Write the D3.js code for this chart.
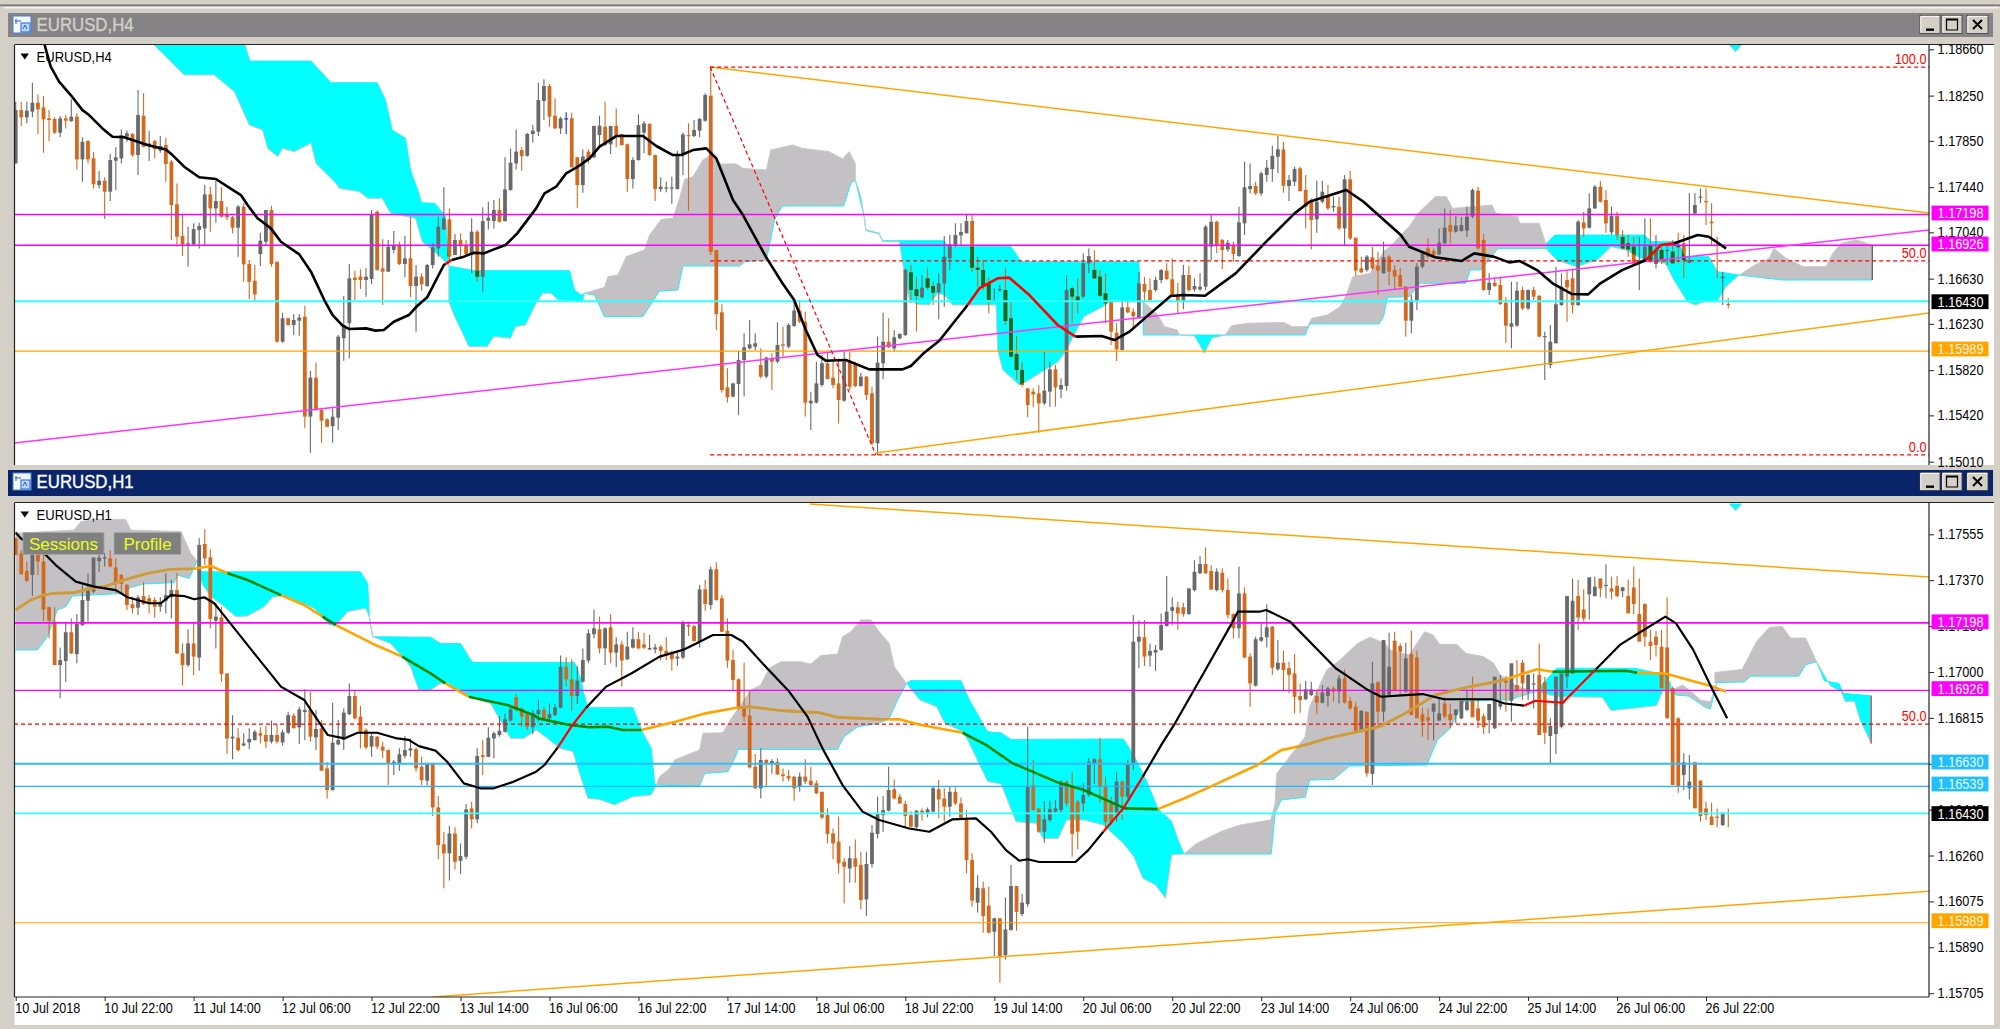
<!DOCTYPE html>
<html><head><meta charset="utf-8">
<script src="https://cdn.jsdelivr.net/npm/d3@7"></script>
<style>html,body{margin:0;padding:0;background:#d4d0c8;overflow:hidden}svg{display:block}text{font-family:"Liberation Sans",Arial,sans-serif}</style>
</head><body>
<script>
// All prices are in points: 118660 = 1.18660. Bars are counted from the left edge of each chart.
const h4High=[118196,118196,118196,118364,118261,118246,118122,118058,118069,118078,118217,118093,117881,117857,117754,117583,117527,117733,117792,117951,117940,117922,118300,118270,117940,117857,117892,117878,117680,117473,117193,117090,117120,117125,117459,117444,117497,117438,117267,117184,117282,117297,116795,116751,117037,117238,117276,116780,116329,116285,116314,116317,116391,115813,115889,115482,115394,115482,116131,116476,116760,116701,116713,116722,117238,117232,116978,116972,117052,116957,117010,117179,116751,116677,116760,116943,117179,117438,117252,117025,117031,116972,117164,117061,117261,117311,117326,117341,117704,117783,117951,117792,117922,117990,118364,118394,118353,118226,118064,118102,118099,117710,117774,117774,117984,118072,118196,117984,118137,117910,117827,117704,118084,118025,118005,117730,117527,117488,117532,117763,117922,118005,118034,118055,118270,118506,116884,116403,115836,115709,115993,116146,116264,116146,116013,115940,115969,116243,116205,116235,116441,116441,116338,115630,115895,115954,115984,115895,115925,115984,115984,115895,115798,115769,115674,116117,116329,116279,116175,116146,116721,116751,116648,116662,116721,116603,116677,117007,117016,117120,117120,117193,117193,116825,116795,116648,116544,116574,116721,116426,116122,115887,115659,115659,115689,115984,115895,115866,115748,116662,116559,116633,116854,116898,116884,116707,116677,116432,116235,116427,116427,116367,116692,116648,116633,116648,116713,116766,116810,116594,116751,116742,116633,116677,117105,117193,117143,116981,116972,116957,117267,117665,117650,117488,117577,117680,117807,117892,117842,117547,117621,117621,117547,117341,117497,117497,117459,117356,117356,117547,117583,116993,116825,116839,116913,116869,116957,116839,116751,116727,116565,116485,116766,116869,116987,116898,117075,117252,117238,117184,117179,117267,117429,117444,117025,116677,116648,116648,116465,116603,116603,116559,116535,116559,116485,116161,116220,116736,116677,116707,116721,117149,117223,117385,117459,117494,117415,117267,117223,117061,117016,117001,117001,117164,117164,117016,116913,116943,116972,117037,117016,117385,117385,117429,117429,117297,117001,116692,116456];
const h4Low=[117650,117981,118005,118058,117910,117745,117848,117910,117881,117960,118019,117597,117488,117650,117429,117429,117158,117317,117415,117650,117842,117709,117547,117792,117671,117695,117745,117488,116972,116913,116833,116736,116928,116898,116928,117046,117128,117170,117149,117031,116825,116603,116450,116432,116742,116928,116736,116063,116063,116214,116131,116125,115305,115090,115462,115178,115314,115178,115291,115904,115925,116441,116538,116471,116583,116701,116397,116692,116854,116751,116642,116465,116161,116524,116559,116721,116825,117060,116780,116839,116825,116839,116677,116603,116515,117066,117075,117128,117134,117409,117597,117586,117709,117836,117892,118034,117975,117954,117910,117910,117615,117258,117391,117650,117695,117798,117804,117733,117792,117807,117400,117429,117674,117739,117718,117317,117400,117394,117291,117420,117547,117232,117881,117881,118019,116839,116175,115621,115535,115580,115423,115586,116004,115999,115748,115748,115644,115881,115940,116013,116205,116235,115409,115291,115527,115674,115739,115659,115349,115541,115644,115668,115674,115556,115158,115069,115739,116013,115984,116093,116122,116412,116161,116456,116530,116397,116270,116382,116707,116907,116928,117031,116692,116559,116530,116323,116435,116515,116220,115934,115739,115674,115403,115491,115267,115512,115497,115497,115571,115639,116235,116323,116456,116677,116624,116471,116235,116043,115901,115998,116323,116190,116279,116427,116435,116515,116589,116618,116471,116323,116359,116515,116515,116524,116529,116795,116854,116715,116869,116780,116825,117016,117385,117370,117364,117488,117488,117562,117391,117317,117450,117400,117075,116889,117037,117297,117238,117223,117060,116928,116972,116653,116677,116692,116707,116485,116677,116574,116535,116553,116117,116146,116353,116721,116810,116825,116839,116937,116943,117037,117046,116999,117164,116884,116524,116485,116559,116397,116063,116013,116205,116353,116353,116441,116111,115733,115836,116058,116388,116249,116323,116388,116996,117075,117246,117303,117037,117016,116972,116889,116825,116751,116530,116780,116771,116721,116760,116751,116766,116766,116633,116766,117202,117297,117105,116919,116633,116397,116368];
const h4Open=[117650,118122,118058,118108,118187,118146,118049,118043,117922,118049,118025,118064,117686,117848,117695,117459,117497,117400,117674,117695,117887,117910,117724,118072,117804,117848,117763,117813,117665,117288,117007,116934,116934,117060,117075,117376,117252,117317,117193,117173,117081,117267,116760,116612,116848,116957,117238,116780,116072,116279,116220,116258,116294,115409,115754,115468,115385,115326,115400,116102,116235,116639,116648,116618,116627,117223,116721,116692,116884,116919,116760,116810,116565,116648,116565,116751,116898,117066,117155,116839,116972,116928,116839,117046,116647,117143,117140,117238,117140,117415,117650,117768,117718,117910,117931,118202,118335,118072,117960,118049,118049,117704,117459,117754,117704,117901,117975,117819,117981,117910,117819,117512,117680,117922,117999,117724,117423,117432,117429,117423,117724,117901,117892,117940,118028,118249,116884,116332,115668,115586,115698,115910,116013,116028,115866,115763,115925,115895,116049,116028,116211,116347,116249,115527,115533,115689,115881,115754,115703,115550,115895,115875,115680,115763,115615,115173,115881,116072,116013,116102,116131,116686,116535,116465,116633,116565,116509,116589,116810,116922,117013,117031,117140,116727,116707,116589,116441,116529,116529,116279,115963,115822,115659,115630,115615,115527,115630,115827,115650,115680,116544,116471,116471,116766,116707,116648,116500,116427,116152,115998,116376,116338,116279,116583,116529,116529,116618,116701,116624,116491,116427,116662,116535,116535,116559,116913,117134,116972,116889,116928,116830,117120,117423,117450,117385,117547,117600,117709,117774,117450,117488,117606,117415,117320,117155,117311,117370,117261,117267,117075,117509,116993,116721,116707,116819,116745,116677,116825,116707,116662,116559,116258,116441,116736,116898,116875,116845,116943,117105,117046,117052,117055,117179,117409,116972,116530,116594,116574,116417,116205,116214,116530,116367,116530,116477,116122,115866,116058,116397,116618,116633,116397,117128,117081,117252,117444,117326,117040,117184,116999,116943,116913,116766,116795,116919,116760,116884,116884,116869,116919,116943,116771,117208,117356,117317,117134,116934,116633,116406];
const h4Close=[118122,118058,118117,118187,118128,118040,118034,117922,118049,118028,118064,117686,117842,117686,117465,117497,117400,117680,117704,117901,117916,117724,118078,117798,117827,117774,117804,117645,117282,117001,116934,116943,117069,117096,117376,117252,117317,117179,117173,117081,117267,116757,116603,116491,116966,117238,116760,116072,116279,116220,116264,116285,115409,115754,115468,115373,115320,115409,116117,116220,116633,116618,116618,116648,117202,116707,116692,116913,116919,116760,116810,116565,116648,116580,116751,116907,117090,117164,116825,116972,116919,116848,117046,116647,117140,117170,117238,117134,117420,117656,117754,117715,117910,117940,118211,118335,118064,117960,118049,118049,117615,117459,117710,117680,117981,117984,117813,117981,117887,117813,117512,117680,117990,118005,117724,117423,117444,117438,117438,117724,117907,117892,117945,118043,118255,116869,116317,115644,115580,115703,115910,116022,116049,116058,115763,115931,115895,116043,116037,116220,116347,116249,115533,115550,115703,115881,115742,115689,115556,115895,115674,115680,115763,115600,115173,115887,116072,116022,116111,116140,116707,116530,116476,116550,116550,116506,116589,116825,116934,117016,117043,117140,116727,116707,116565,116441,116441,116538,116255,115940,115822,115689,115512,115606,115527,115639,115827,115668,115689,116529,116471,116427,116766,116830,116633,116479,116412,116161,116004,116376,116332,116299,116589,116515,116441,116618,116707,116627,116477,116427,116662,116529,116565,116559,117090,117134,116928,116884,116948,116848,117128,117438,117450,117385,117562,117612,117718,117774,117453,117503,117600,117406,117267,117149,117311,117400,117252,117273,117075,117509,116987,116701,116686,116825,116721,116701,116819,116692,116648,116559,116258,116441,116736,116854,116825,116839,116948,117081,117046,117099,117105,117179,117415,116898,116530,116594,116565,116406,116214,116235,116524,116367,116530,116471,116117,116122,116072,116403,116559,116553,116397,117134,117075,117252,117444,117311,117120,117184,117016,116898,116889,116766,116795,116913,116795,116884,116795,116884,116766,116913,116795,116795,117282,117356,117311,117120,116928,116648,116397,116427];

const h1High=[117539,117492,117445,117539,117545,117478,117263,117261,117099,117196,117216,117234,117351,117398,117461,117485,117481,117492,117458,117395,117355,117304,117310,117364,117310,117301,117301,117398,117371,117400,117115,117172,117199,117539,117575,117494,117277,117263,116994,116826,116773,116753,116773,116766,116777,116782,116804,116790,116766,116840,116833,116860,116930,116921,116847,116806,116638,116876,116806,116853,116954,116927,116863,116773,116750,116742,116719,116688,116645,116692,116742,116732,116696,116658,116634,116634,116500,116356,116379,116374,116309,116468,116477,116692,116726,116777,116759,116822,116833,116860,116911,116857,116840,116847,116887,116860,116873,116871,117066,117059,117051,117024,117095,117172,117252,117223,117180,117234,117140,117126,117162,117180,117162,117158,117149,117113,117109,117140,117086,117078,117207,117203,117189,117351,117371,117425,117442,117310,117216,117089,116974,117037,116927,116669,116692,116648,116648,116652,116611,116605,116580,116595,116648,116618,116562,116517,116450,116369,116417,116249,116298,116325,116275,116275,116383,116497,116500,116618,116567,116508,116481,116439,116443,116450,116454,116540,116564,116531,116540,116535,116494,116443,116269,116181,116154,116134,116009,116007,116091,116222,116137,116105,116779,116645,116453,116480,116481,116484,116564,116562,116598,116484,116551,116652,116652,116735,116578,116497,116598,116562,116645,117230,117207,117210,117115,117109,117236,117387,117300,117283,117279,117337,117451,117468,117502,117431,117418,117418,117377,117236,117425,117341,117075,117142,117196,117273,117185,117129,117086,117041,117072,116954,116965,116961,116927,116947,116941,116943,116988,117011,116900,116880,116847,116840,117041,116964,116921,117158,117162,117115,117118,117166,117086,116857,116853,116857,116894,116898,116873,116849,116860,116925,116981,116894,116833,116813,116873,116988,116984,116968,117048,117048,116994,116994,117115,116981,116813,116817,116994,117115,117377,117371,117333,117317,117384,117377,117434,117384,117387,117344,117373,117425,117377,117277,117169,117166,117169,117301,116941,116817,116672,116665,116638,116564,116477,116473,116450,116414,116450];
const h1Low=[117472,117391,117364,117306,117391,117205,117136,117028,116894,116961,117072,117035,117185,117203,117317,117404,117425,117422,117317,117317,117250,117236,117230,117270,117236,117219,117243,117236,117216,117072,116945,117021,116988,117005,117431,117176,117095,116961,116669,116648,116679,116701,116688,116723,116712,116692,116712,116712,116703,116750,116773,116710,116726,116719,116685,116601,116490,116521,116705,116685,116826,116809,116692,116688,116658,116688,116652,116544,116585,116602,116652,116658,116598,116544,116543,116419,116245,116128,116159,116204,116185,116245,116369,116390,116585,116656,116652,116739,116755,116800,116840,116779,116766,116750,116800,116804,116809,116822,116853,116941,116844,116871,116957,117035,117136,117075,117028,117035,117019,116941,117048,117095,117091,117093,117089,117075,117046,117048,117005,117024,117052,117145,117122,117099,117247,117252,117287,117162,117017,116927,116847,116800,116611,116527,116490,116537,116591,116585,116558,116560,116481,116517,116548,116540,116508,116406,116309,116245,116188,116067,116150,116150,116043,116016,116212,116329,116356,116437,116486,116468,116376,116374,116369,116400,116414,116433,116410,116396,116417,116464,116403,116188,116054,116030,115949,115946,115855,115747,115841,115957,115957,116016,116054,116441,116352,116312,116396,116427,116430,116457,116255,116285,116437,116497,116548,116473,116360,116383,116396,116403,116490,116605,117015,117024,117021,117005,117086,117183,117189,117169,117223,117230,117324,117395,117395,117330,117324,117320,117216,117136,117136,117055,116860,116941,117122,117099,116988,117005,116927,116914,116833,116836,116887,116903,116830,116873,116860,116880,116873,116873,116847,116755,116755,116578,116544,116779,116800,116903,117015,116900,116917,116927,116822,116739,116726,116726,116804,116813,116773,116793,116809,116843,116840,116773,116750,116753,116770,116849,116840,116800,116943,116887,116887,116853,116951,116710,116632,116669,116773,116934,116992,117169,117203,117212,117304,117301,117297,117293,117301,117301,117257,117234,117216,117102,117048,117062,117055,116914,116719,116513,116524,116486,116537,116396,116403,116410,116374,116379,116374];
const h1Open=[117539,117478,117407,117391,117485,117445,117261,117203,117028,117044,117160,117072,117189,117287,117324,117447,117457,117458,117421,117391,117351,117273,117259,117306,117297,117290,117263,117287,117301,117330,117075,117028,117115,117058,117516,117462,117207,117220,116994,116732,116735,116704,116716,116726,116753,116746,116719,116746,116716,116755,116824,116777,116839,116847,116736,116773,116611,116524,116708,116726,116830,116903,116820,116766,116699,116739,116699,116685,116629,116632,116662,116683,116689,116618,116562,116632,116454,116305,116269,116349,116239,116255,116450,116406,116665,116658,116732,116746,116759,116804,116898,116853,116833,116777,116830,116847,116813,116826,116856,117021,116970,116903,116961,117046,117152,117172,117095,117180,117078,117111,117051,117098,117132,117111,117091,117091,117102,117085,117075,117054,117058,117189,117185,117121,117333,117270,117414,117297,117166,117048,116970,116853,116824,116618,116531,116645,116629,116638,116587,116580,116578,116537,116578,116562,116551,116517,116423,116349,116316,116235,116208,116249,116222,116083,116226,116347,116423,116441,116527,116497,116468,116423,116374,116441,116433,116437,116527,116490,116457,116517,116470,116410,116242,116070,116128,116058,115953,116007,115859,115960,116137,116024,116064,116544,116450,116356,116403,116437,116443,116558,116540,116477,116470,116504,116629,116648,116540,116470,116430,116558,116497,116625,117122,117140,117066,117078,117089,117185,117246,117261,117261,117234,117330,117398,117435,117407,117330,117400,117330,117234,117176,117317,117062,116945,117126,117140,117183,117011,117037,117015,116994,116903,116890,116907,116903,116876,116903,116934,116921,116974,116883,116860,116759,116840,116589,116958,116840,116907,117126,117105,116921,117072,117059,116830,116817,116840,116804,116873,116830,116826,116813,116847,116884,116853,116822,116806,116773,116860,116974,116884,116947,117037,116921,116954,116988,116958,116742,116750,116779,116981,116994,117306,117252,117313,117306,117377,117347,117337,117347,117326,117306,117341,117234,117274,117122,117142,117102,117099,116934,116813,116585,116531,116636,116562,116450,116417,116417,116383,116410];
const h1Close=[117472,117395,117367,117519,117445,117252,117207,117028,117048,117160,117075,117193,117290,117330,117461,117461,117462,117425,117355,117355,117270,117257,117301,117274,117273,117263,117283,117310,117330,117075,117028,117115,117062,117512,117458,117214,117223,116992,116732,116739,116685,116712,116730,116759,116743,116719,116746,116719,116757,116826,116773,116849,116847,116739,116770,116602,116524,116715,116726,116836,116903,116813,116759,116696,116742,116699,116683,116632,116638,116668,116685,116692,116611,116564,116632,116454,116302,116269,116349,116235,116258,116446,116406,116661,116658,116735,116753,116763,116809,116849,116847,116820,116779,116833,116847,116813,116830,116857,117021,116970,116903,116965,117048,117156,117176,117095,117176,117078,117111,117046,117102,117132,117095,117098,117097,117099,117085,117066,117052,117062,117199,117183,117125,117333,117274,117414,117290,117162,117046,116968,116853,116820,116615,116531,116645,116629,116641,116587,116580,116571,116531,116578,116558,116544,116511,116413,116347,116309,116228,116215,116249,116215,116081,116226,116352,116427,116443,116524,116490,116470,116419,116376,116441,116433,116446,116531,116486,116457,116517,116470,116410,116242,116078,116130,116016,115949,116007,115855,115962,116137,116033,116070,116540,116443,116356,116406,116447,116450,116551,116470,116347,116356,116504,116638,116648,116537,116396,116396,116558,116497,116632,117122,117142,117062,117085,117089,117189,117243,117261,117236,117234,117337,117404,117435,117398,117333,117404,117330,117230,117176,117317,117058,116954,117132,117140,117180,117017,117037,117008,116988,116900,116887,116930,116930,116876,116917,116934,116921,116974,116876,116853,116759,116843,116591,116954,116840,117129,117021,116927,117082,117055,116826,116813,116800,116804,116873,116833,116820,116806,116849,116884,116880,116817,116804,116777,116871,116981,116876,116957,117035,116921,116954,116988,116954,116746,116755,116782,116981,116994,117306,117287,117220,117216,117382,117344,117337,117351,117324,117306,117341,117236,117274,117122,117142,117105,117109,116934,116813,116544,116537,116636,116558,116450,116419,116423,116383,116414,116433];

// Moving averages, read at breakpoints [bar, price]
const h4MaBars=[5.2,6.3,7.8,9.9,12,13.2,15.6,17.4,19.5,21,23.7,27,28.2,30.3,33,36,38.1,40.5,41.7,43.5,45.9,47.7,51,53.1,55.5,57,58.8,60,63,64.7,66.2,68,70.7,72.2,74,77,77.3,78.4,80.6,82.4,84.2,86,88.1,90.2,93.6,95.1,97.2,99,101.1,103.2,105,108,112.8,115.2,118.2,119.7,121.8,124.2,126,129,130.8,134.9,137.9,140,142.1,144.2,145.7,149.3,153.5,159.5,161,163.4,166.1,171.2,173.3,176.6,178.7,182.3,187.4,190.6,195.3,197.6,200.3,203.4,207.7,210,213.9,219.4,224.9,230,232.7,239.3,242.4,249.1,250.6,255.3,260,262.3,265.8,268.6,270.5,273.6,276.4,279.9,282.8,285,288.9,293.2,295.9,298.2,302.5,304.5,307.6];
const h4MaVals=[118698,118506,118373,118255,118122,118078,117960,117886,117881,117857,117813,117774,117724,117621,117527,117512,117444,117370,117282,117164,117075,116957,116845,116692,116441,116308,116214,116184,116190,116170,116175,116249,116308,116388,116465,116751,116760,116795,116825,116860,116854,116889,116928,117031,117252,117385,117444,117562,117621,117695,117798,117892,117892,117804,117724,117724,117768,117783,117695,117326,117193,116825,116589,116441,116176,115954,115904,115910,115827,115827,115857,115975,116081,116397,116544,116633,116639,116485,116220,116117,116122,116087,116161,116294,116476,116485,116479,116677,116957,117208,117311,117415,117311,117016,116913,116819,116786,116854,116825,116774,116786,116706,116589,116494,116491,116589,116706,116795,116928,116942,117016,117001,116898];
const h4MaRedSpans=[[77.3,78.4],[171.2,190.6],[293.2,298.2]];
const h1MaBars=[0,0.9,5.4,7.2,10.8,14.1,18,20.1,24,26.1,27.9,30.3,32.1,33.9,35.7,38.1,42.9,47.7,51.9,53.7,56.1,59.1,61.5,65,68.6,70.7,72.5,75.5,77.6,80.6,83.6,86,89.6,93.6,95.1,97.5,99.9,102.6,106.2,110.7,115.8,120,122.4,125.4,128.7,130.8,134.3,139.1,142.4,145.1,148.7,152.3,155.3,160.7,164.3,168.5,172.7,175.4,178.1,180.5,182,184.1,187.5,190.6,192.9,195.6,199.2,202.7,206.2,208.5,213.6,218.7,219.8,223.7,224.9,229.2,237.4,240.5,243.2,245.6,249.9,253,256.9,265.5,267.8,271.3,273.3,278.3,278.7,284.2,288.5,292.8,296.7,298.6,301.7,305.2,307.8];
const h1MaVals=[117562,117539,117472,117431,117364,117344,117330,117301,117277,117277,117310,117306,117293,117301,117277,117210,117075,116941,116887,116826,116746,116732,116755,116755,116732,116726,116701,116683,116638,116551,116531,116531,116558,116598,116625,116696,116779,116856,116941,116994,117062,117089,117115,117149,117149,117122,117035,116921,116820,116692,116544,116437,116403,116369,116356,116406,116410,116356,116282,116239,116245,116234,116234,116234,116282,116356,116450,116578,116712,116793,116994,117196,117243,117243,117250,117203,117015,116968,116927,116900,116907,116911,116890,116890,116873,116864,116884,116876,116887,117011,117109,117169,117223,117196,117089,116927,116813];
const h1MaRedSpans=[[97.5,102.6],[195.6,202.7],[271.3,284.2]];
const h1SlowBars=[0,2.7,5.1,6.9,10.5,13.5,15.9,19.5,23.7,27.9,32.1,35.1,38.1,41.7,47.7,51.9,55.2,57.6,64.1,69.5,74.6,77.3,81.5,88.4,93.2,94,99.6,103.2,106.5,109.2,112.5,118.8,123.6,129.6,132,137.9,144.5,147.8,155.3,158.9,162.8,170.3,174.5,179.3,187.5,192.1,199.5,205.4,210.1,214.8,223.3,227.6,231.9,235.8,241.3,245.2,249.9,255.3,261.6,267,273.6,276.4,289.6,291.6,296.7,300.6,305.2,307.6];
const h1SlowVals=[117250,117290,117310,117317,117320,117337,117344,117371,117398,117414,117416,117427,117398,117371,117310,117270,117223,117189,117115,117062,116994,116954,116900,116867,116826,116813,116786,116777,116779,116766,116766,116800,116831,116856,116860,116844,116836,116817,116810,116809,116786,116755,116706,116632,116554,116524,116450,116447,116490,116537,116625,116685,116706,116732,116759,116779,116833,116907,116941,116964,117011,117001,117005,116997,116994,116970,116941,116920];
const h1SlowGreenSpans=[[38.1,47.7],[55.2,57.6],[69.5,77.3],[81.5,112.5],[170.3,205.4],[276.4,291.6]];

// Ichimoku cloud pieces: edges as [bar, price]
const h4CyanA1=[[24.9,118698],[41.2,118698],[42.1,118556],[53.1,118556],[56.7,118364],[65,118364],[66.5,118211],[67.7,117945],[70.1,117872],[71,117592],[72.5,117385],[73,117302],[75.4,117297],[77.3,117179],[77.9,116742]];
const h4CyanB1=[[24.9,118698],[27.6,118565],[30.3,118432],[35.7,118432],[39.3,118285],[42,117990],[44.4,117945],[45.3,117783],[47.1,117709],[48,117783],[50.1,117754],[53.1,117828],[54,117650],[57.6,117473],[58.2,117429],[61.8,117400],[63.3,117341],[65.9,117341],[67.4,117208],[71.9,117164],[73.1,116957],[74.9,116884],[76.4,116825],[77.9,116742]];
const h4CyanA2=[[77.9,116742],[80.3,116721],[82.4,116701],[99.6,116701],[100.5,116530],[101.7,116485],[102.3,116500]];
const h4CyanB2=[[77.9,116742],[77.9,116426],[78.8,116308],[81.5,116028],[84.8,116028],[86,116117],[89,116102],[89.9,116205],[91.7,116220],[93.6,116412],[94.8,116500],[96.3,116500],[97.5,116441],[102,116426],[102.3,116500]];
const h4GrayB1=[[102.3,116500],[105.9,116553],[106.5,116648],[108.3,116662],[109.8,116825],[113.1,116884],[114,117016],[116.1,117155],[118.2,117164],[119.4,117341],[120.3,117509],[121.8,117533],[123.6,117680],[125.1,117724],[126.9,117645],[129.6,117645],[130.8,117606],[135,117592],[135.8,117769],[139.7,117813],[141.5,117783],[146.3,117754],[148.7,117689],[149.9,117754],[151,117650],[151,117503]];
const h4GrayA1=[[102.3,116500],[104.1,116485],[105.9,116294],[112.8,116294],[115.8,116521],[119.1,116530],[120,116742],[130.2,116742],[131.1,116780],[135,116795],[136.5,117155],[137.9,117273],[148.9,117273],[150.2,117473],[151,117503]];
const h4CyanA3=[[151,117503],[152.6,117179],[152.9,117061],[155.3,117031],[155.9,116966],[166.8,116966],[167.9,116913],[179,116913],[180.8,116780],[202,116780],[202.3,116441],[202.8,116426]];
const h4CyanB3=[[151,117503],[152,117356],[152.6,117179],[152.9,117055],[155.3,117025],[155.9,116957],[158.9,116957],[159.5,116765],[160.7,116441],[162.2,116403],[164.3,116397],[165.8,116500],[167,116485],[168.5,116397],[176.3,116397],[176.6,115999],[177.5,115822],[180.5,115689],[181.7,115718],[187.5,115895],[189,115999],[190.2,116117],[192.1,116294],[195.6,116382],[197.2,116441],[202.8,116426]];
const h4GrayB2=[[202.8,116426],[205.4,116308],[206.6,116205],[208.9,116175],[209.3,116131]];
const h4GrayA2=[[202.8,116426],[202.8,116131],[209.3,116131]];
const h4CyanA4=[[209.3,116131],[217.5,116131]];
const h4CyanB4=[[209.3,116131],[212,116122],[213.8,115969],[215.1,116102],[217.5,116131]];
const h4GrayB3=[[217.5,116131],[218.7,116214],[221.8,116235],[228,116243],[229.6,116205],[232.3,116205],[233.1,116279],[235.9,116308],[238.2,116382],[239.3,116485],[240.5,116648],[243.6,116677],[246,116869],[247.5,116928],[249.1,117016],[250.6,117090],[252.2,117208],[255.3,117356],[257.3,117356],[258.4,117252],[265.5,117282],[266.2,117208],[270.1,117179],[270.5,117120],[274,117120],[275.2,116937]];
const h4GrayA3=[[217.5,116131],[231.9,116131],[232.7,116229],[245.2,116229],[246,116294],[246.7,116465],[250.6,116471],[252.6,116589],[260.8,116589],[261.6,116707],[263.5,116707],[266.6,116898],[275.2,116898],[275.2,116937]];
const h4CyanA5=[[275.2,116937],[276.8,117016],[292.8,117016],[294.3,116957],[299,116957],[300.2,116825],[304.5,116825],[306,116692],[308,116677],[310,116662]];
const h4CyanB5=[[275.2,116937],[275.2,116898],[277.1,116795],[280.6,116736],[284.5,116795],[286.9,116913],[289.6,116884],[292.8,116795],[296.7,116765],[298.2,116618],[300.6,116426],[302.1,116397],[303.7,116426],[306,116426],[307.6,116559],[309.6,116648],[310,116662]];
const h4GrayB4=[[310,116662],[312.8,116751],[315.4,116810],[316.2,116898],[318.4,116810],[321.5,116736],[325.6,116736],[326.8,116854],[328.3,116943],[331,116972],[333.9,116928]];
const h4GrayA4=[[310,116662],[317.7,116618],[333.9,116618]];
const h4CyanA6=[[308.2,118698],[310.4,118698]];
const h4CyanB6=[[308.2,118698],[309.3,118636],[310.4,118698]];
const h4CloudEdge=[[333.9,116928],[333.9,116618]];

const h1GrayB1=[[0,117559],[10.5,117572],[11.7,117606],[14.1,117615],[19.8,117615],[20.7,117572],[29.7,117566],[31.5,117478],[32.6,117447]];
const h1GrayA1=[[0,117089],[3.9,117089],[5.7,117142],[7.5,117250],[9,117263],[10.2,117306],[19.5,117317],[20.7,117341],[23.1,117355],[28.5,117360],[29.1,117391],[31.2,117377],[32.6,117447]];
const h1CyanA1=[[32.6,117447],[33.3,117404],[62,117404],[63.3,117357],[63.6,117223],[64.2,117142],[74.6,117140],[76.4,117115],[80,117115],[82.1,117039],[100.5,117039],[101.7,116968],[102,116927],[102.9,116856],[111,116856],[112.8,116753],[114.3,116692],[114.9,116551],[115.2,116544]];
const h1CyanB1=[[32.6,117447],[33.6,117351],[35.1,117304],[37.5,117263],[39.6,117223],[41.7,117226],[44.7,117263],[46.2,117301],[47.7,117306],[49.5,117297],[53.7,117256],[56.4,117189],[57.6,117189],[59.7,117243],[62.9,117257],[63.6,117223],[64.2,117142],[67.4,117115],[69.5,117062],[71,117021],[72.5,116927],[74.6,116927],[76.4,116954],[77.6,116954],[80,116921],[81.5,116900],[85.4,116873],[87.8,116779],[89,116732],[91.4,116732],[93.6,116766],[96,116726],[97.8,116692],[100.2,116679],[101.4,116591],[102.9,116490],[105,116486],[107.7,116464],[111,116497],[114.3,116504],[115.2,116544]];
const h1GrayB2=[[115.2,116544],[115.8,116578],[117.6,116611],[118.5,116645],[121.8,116675],[123,116685],[123.6,116753],[127.2,116755],[128.7,116813],[130.2,116860],[132.2,116927],[134,116947],[135.5,117015],[137.6,117041],[141.2,117041],[143,117032],[144.8,117066],[147.8,117072],[148.7,117142],[150.2,117162],[152,117210],[153.8,117210],[155.3,117162],[157.1,117115],[158,117021],[160.2,116954]];
const h1GrayA2=[[115.2,116544],[123,116540],[123.9,116591],[128.1,116598],[129.6,116665],[129.9,116688],[147.8,116688],[149,116739],[151.4,116779],[155.3,116793],[157.1,116813],[158.6,116887],[160.2,116954]];
const h1CyanA2=[[160.2,116954],[161,116965],[170,116965],[171.5,116887],[174.8,116759],[177.2,116755],[179,116728],[199.2,116730],[200.3,116692],[201.5,116645],[203.4,116558],[205.4,116450],[207.9,116396],[208.9,116329],[210.1,116266]];
const h1CyanB2=[[160.2,116954],[162.6,116887],[165.6,116860],[167.1,116793],[170.3,116759],[171.2,116726],[174.8,116558],[177.2,116548],[179.9,116396],[183.5,116390],[184.7,116329],[187.5,116329],[189,116403],[192.1,116403],[195.6,116383],[199.2,116309],[201.1,116255],[202.7,116168],[205,116141],[206.8,116087],[207.9,116262],[210.1,116266]];
const h1GrayB3=[[210.1,116266],[212.4,116309],[217.1,116360],[220.2,116383],[225.7,116403],[226.5,116470],[226.8,116591],[229.6,116672],[231.9,116739],[232.7,116860],[235.8,117008],[238.2,117048],[241.3,117115],[243.6,117140],[246.3,117115],[247.1,117089],[250.6,117068],[253.4,117162],[254.9,117149],[256.1,117111],[259.2,117111],[260.8,117075],[263.9,117062],[265.8,117035],[267,116988],[270.1,116941],[273.3,116921]];
const h1GrayA3=[[210.1,116266],[225.8,116266],[226.5,116430],[227.6,116484],[231.9,116495],[232.7,116564],[237,116567],[239.9,116621],[253.8,116625],[255.7,116726],[258,116773],[260.4,116880],[265.5,116887],[268.6,116887],[273.3,116921]];
const h1CyanA3=[[273.3,116921],[277.2,117015],[291.2,117015],[296.7,116988],[297.6,116954],[297.8,116927]];
const h1CyanB3=[[273.3,116921],[277.2,116900],[285.3,116898],[286.9,116844],[295.1,116864],[296.3,116927],[297.8,116927]];
const h1GrayB4=[[297.8,116927],[299.8,116947],[301.3,116921],[303,116887],[304.8,116880],[306,116961]];
const h1GrayA4=[[297.8,116927],[298.6,116907],[300.9,116903],[303.7,116860],[304.8,116851],[306,116961]];
const h1GrayB5=[[305.6,116957],[305.6,116998],[310.5,117010],[313.1,117123],[315.4,117180],[317.7,117183],[319.2,117137],[321.9,117137],[323.9,117041]];
const h1GrayA5=[[305.6,116957],[310.9,116960],[312,116983],[320.7,116983],[321.9,117029],[323.9,117041]];
const h1CyanA4=[[323.9,117041],[325.3,116964],[327.9,116954],[328.7,116914],[333.7,116904],[333.7,116712]];
const h1CyanB4=[[323.9,117041],[326.4,116943],[328.3,116921],[329,116881],[330.7,116881],[331.7,116806],[333.7,116712]];
const h1CyanA5=[[308.2,117677],[310.4,117677]];
const h1CyanB5=[[308.2,117677],[309.3,117649],[310.4,117677]];
const h1CloudEdge=[[333.7,116904],[333.7,116712]];

// Axis labels and levels
const h4Ticks=[118660,118250,117850,117440,117040,116630,116230,115820,115420,115010];
const h1Ticks=[117555,117370,117185,117000,116815,116630,116445,116260,116075,115890,115705];
const h1TimeLabels=["10 Jul 2018","10 Jul 22:00","11 Jul 14:00","12 Jul 06:00","12 Jul 22:00","13 Jul 14:00","16 Jul 06:00","16 Jul 22:00","17 Jul 14:00","18 Jul 06:00","18 Jul 22:00","19 Jul 14:00","20 Jul 06:00","20 Jul 22:00","23 Jul 14:00","24 Jul 06:00","24 Jul 22:00","25 Jul 14:00","26 Jul 06:00","26 Jul 22:00"];
const h4Levels=[[117198,"#ff00ff",1.6],[116926,"#ff00ff",1.6],[116430,"#33ffff",1.8],[115989,"#ffa500",1.4]];
const h1Levels=[[117198,"#ff00ff",1.6],[116926,"#ff00ff",1.4],[116630,"#33bbff",1.8],[116539,"#22b4ff",1.2],[116430,"#33ffff",1.6],[115989,"#ffa500",1.2]];
const h4Tags=[[117198,"#ff00ff","#ffffff",213],[116926,"#ff00ff","#ffffff",244],[116430,"#000000","#ffffff",301.7],[115989,"#ffa500","#fff6dc",349]];
const h1Tags=[[117198,"#ff00ff","#ffffff",621.8],[116926,"#ff00ff","#ffffff",688.6],[116630,"#22bfff","#e8fbff",762],[116539,"#22bfff","#e8fbff",784],[116430,"#000000","#ffffff",813.6],[115989,"#ffa500","#fff6dc",920.7]];
const h4Trends=[[[124.9,118503],[344.1,117211],"#ffa500"],[[154.7,115087],[344.1,116326],"#ffa500"],[[-0.3,115176],[344.1,117061],"#ff33ff"]];
const h1Trends=[[[142.8,117677],[344.1,117383],"#ffa500"],[[75,115690],[344.1,116116],"#ffa500"]];
const h4Fib=[[118503,"100.0",59],[116787,"50.0",253],[115070,"0.0",447]];
const h1Fib=[[116790,"50.0",716]];
const h4FibDiag=[[124.9,118503],[154.7,115070]];

const W=2000,H=1029,plotL=14.5,axisX=1929,panelR=1994;
const x=d3.scaleLinear().domain([0,344.1]).range([15.7,axisX]);
const svg=d3.select("body").append("svg").attr("width",W).attr("height",H);
svg.append("rect").attr("width",W).attr("height",H).attr("fill","#d4d0c8");
svg.append("rect").attr("x",0).attr("y",4.5).attr("width",W).attr("height",1.6).attr("fill","#77767a");
svg.append("rect").attr("x",4).attr("y",7).attr("width",W-5).attr("height",1.5).attr("fill","#f4f2ec");

// the reference text is tall and narrow: larger size, squeezed back to its width
function tallText(sel,size,k){
  sel.attr("font-size",size).each(function(){
    const l=this.getComputedTextLength();
    this.setAttribute("textLength",l*k);
    this.setAttribute("lengthAdjust","spacingAndGlyphs");
  });
}

function chrome(top,h,fill,color,title){
  svg.append("rect").attr("x",8).attr("y",top).attr("width",1985).attr("height",h).attr("fill",fill);
  const ic=svg.append("g");
  ic.append("rect").attr("x",13).attr("y",top+3).attr("width",18).attr("height",17).attr("fill","#f4f8ff").attr("stroke","#4a86d8");
  ic.append("rect").attr("x",21).attr("y",top+10).attr("width",9).attr("height",9).attr("fill","#bcd6ff").attr("stroke","#2b62c8");
  ic.append("path").attr("d",`M15 ${top+8}h6M16 ${top+6}v5M23 ${top+16}l2-4 2 4`).attr("stroke","#2b62c8").attr("fill","none");
  svg.append("text").attr("x",36.6).attr("y",top+17.5).attr("fill",color).attr("stroke",color).attr("stroke-width",.35).attr("font-size",18).attr("textLength",97).attr("lengthAdjust","spacingAndGlyphs").text(title);
  [1920,1942,1967].forEach((bx,k)=>{
    const y0=top+2.5,bh=18,bw=k==2?21:20;
    svg.append("rect").attr("x",bx).attr("y",y0).attr("width",bw).attr("height",bh).attr("fill","#d4d0c8").attr("stroke","#404040").attr("stroke-width",.8);
    svg.append("path").attr("d",`M${bx+.8} ${y0+bh-.8}V${y0+.8}H${bx+bw-.8}`).attr("stroke","#fff").attr("fill","none");
    if(k==0) svg.append("rect").attr("x",bx+6).attr("y",y0+13).attr("width",8).attr("height",2.4).attr("fill","#000");
    if(k==1) svg.append("path").attr("d",`M${bx+4.5} ${y0+3.5}h11v11h-11zM${bx+4.5} ${y0+4.5}h11`).attr("stroke","#000").attr("fill","none").attr("stroke-width",1.2);
    if(k==2) svg.append("path").attr("d",`M${bx+6} ${y0+4.5}l9 9M${bx+15} ${y0+4.5}l-9 9`).attr("stroke","#000").attr("fill","none").attr("stroke-width",2);
  });
}
chrome(13,24,"#858385","#d4d0c8","EURUSD,H4");
chrome(470,26,"#0a246a","#ffffff","EURUSD,H1");

let clipN=0;
function polyPath(p,xs,ys){return "M"+p.map(d=>xs(d[0])+","+ys(d[1])).join("L")+"Z";}

function panel(c){
  const y=d3.scaleLinear().domain(c.priceDomain).range(c.yRange);
  const n=c.open.length;
  svg.append("rect").attr("x",plotL).attr("y",c.top).attr("width",panelR-plotL).attr("height",c.panelBottom-c.top).attr("fill","#fff");
  const clipId="plot"+(++clipN);
  svg.append("clipPath").attr("id",clipId).append("rect").attr("x",plotL).attr("y",c.top).attr("width",axisX-plotL).attr("height",c.bottom-c.top);
  const g=svg.append("g").attr("clip-path",`url(#${clipId})`);
  const line=d3.line().x(d=>x(d[0])).y(d=>y(d[1]));
  const kumoPath=k=>polyPath(k.up.concat(k.low.slice().reverse()),x,y);

  // cloud
  g.selectAll(".kumo").data(c.kumo).join("path").attr("d",kumoPath)
    .attr("fill",k=>k.kind=="cyan"?"#00ffff":"#c3c1c4").attr("stroke","none");
  g.selectAll(".spanA").data(c.kumo).join("path").attr("d",k=>line(k.kind=="cyan"?k.up:k.low)).attr("fill","none").attr("stroke","#22eeff").attr("stroke-width",1);
  g.selectAll(".spanB").data(c.kumo).join("path").attr("d",k=>line(k.kind=="cyan"?k.low:k.up)).attr("fill","none").attr("stroke","#c9c7ca").attr("stroke-width",1);
  g.append("path").attr("d",line(c.edge)).attr("stroke",c.edgeColor).attr("stroke-width",1.2).attr("fill","none");

  // candles
  const bars=d3.range(n);
  const barColor=i=>c.blue.includes(i)?"#2222ee":(c.close[i]>=c.open[i]&&!c.forceDown.includes(i)?"#696969":"#d2691e");
  g.selectAll(".wick").data(bars).join("line").attr("x1",x).attr("x2",x).attr("y1",i=>y(c.high[i])).attr("y2",i=>y(c.low[i])).attr("stroke",barColor).attr("stroke-width",1.1);
  const bodyY=i=>y(Math.max(c.open[i],c.close[i]));
  const bodyH=i=>Math.max(1.2,Math.abs(y(c.open[i])-y(c.close[i])));
  g.selectAll(".body").data(bars).join("rect").attr("x",i=>x(i)-c.bodyW/2).attr("width",c.bodyW).attr("y",bodyY).attr("height",bodyH).attr("fill",barColor);

  // down bodies change colour where they sit on the cloud (H4)
  if(c.tintBodies){
    const cid="tint"+clipN, gid="tintg"+clipN;
    const cp=svg.append("clipPath").attr("id",cid);
    c.kumo.filter(k=>k.kind=="cyan").forEach(k=>cp.append("path").attr("d",kumoPath(k)));
    const gp=svg.append("clipPath").attr("id",gid);
    c.kumo.filter(k=>k.kind=="gray").forEach(k=>gp.append("path").attr("d",kumoPath(k)));
    const dn=bars.filter(i=>c.close[i]<c.open[i]);
    g.append("g").attr("clip-path",`url(#${cid})`).selectAll("rect").data(dn).join("rect").attr("x",i=>x(i)-c.bodyW/2).attr("width",c.bodyW).attr("y",bodyY).attr("height",bodyH).attr("fill","#1f661f");
    g.append("g").attr("clip-path",`url(#${gid})`).selectAll("rect").data(c.hotBars).join("rect").attr("x",i=>x(i)-c.bodyW/2).attr("width",c.bodyW).attr("y",bodyY).attr("height",bodyH).attr("fill","#f05a28");
  }

  // levels
  g.selectAll(".lvl").data(c.levels).join("line").attr("x1",plotL).attr("x2",axisX).attr("y1",d=>y(d[0])).attr("y2",d=>y(d[0])).attr("stroke",d=>d[1]).attr("stroke-width",d=>d[2]);
  g.selectAll(".trend").data(c.trends).join("line").attr("x1",d=>x(d[0][0])).attr("y1",d=>y(d[0][1])).attr("x2",d=>x(d[1][0])).attr("y2",d=>y(d[1][1])).attr("stroke",d=>d[2]).attr("stroke-width",1.5);

  // fibonacci
  g.selectAll(".fib").data(c.fib).join("line").attr("x1",x(c.fibFrom)).attr("x2",axisX).attr("y1",d=>y(d[0])).attr("y2",d=>y(d[0])).attr("stroke","#ff0000").attr("stroke-width",1.2).attr("stroke-dasharray","4,3");
  if(c.fibDiag) g.append("path").attr("d",line(c.fibDiag)).attr("stroke","#ff0000").attr("stroke-width",1.2).attr("stroke-dasharray","4,3").attr("fill","none");

  // coloured lines
  function colored(bars2,vals,spans,base,alt,w,gr){
    const inSpan=m=>spans.some(s=>m>=s[0]&&m<=s[1]);
    let segs=[],cur=null;
    bars2.forEach((b,k)=>{ if(k==0) return;
      const col=inSpan((bars2[k-1]+b)/2)?alt:base;
      if(!cur||cur.col!=col){cur={col,pts:[[bars2[k-1],vals[k-1]]]};segs.push(cur);}
      cur.pts.push([b,vals[k]]);
    });
    (gr||g).selectAll(null).data(segs).join("path").attr("d",s=>line(s.pts)).attr("fill","none").attr("stroke",s=>s.col).attr("stroke-width",w).attr("stroke-linejoin","round");
  }
  if(c.slow){
    colored(c.slow.bars,c.slow.vals,c.slow.green,"#ffa500","#008800",2.6);
    const cid="gray"+clipN;
    const cp=svg.append("clipPath").attr("id",cid);
    c.kumo.filter(k=>k.kind=="gray").forEach(k=>cp.append("path").attr("d",kumoPath(k)));
    const over=g.append("g").attr("clip-path",`url(#${cid})`);
    over.append("path").attr("d",line(c.slow.bars.map((b,k)=>[b,c.slow.vals[k]]))).attr("fill","none").attr("stroke","#c99b42").attr("stroke-width",2.6);
  }
  colored(c.ma.bars,c.ma.vals,c.ma.red,"#000000","#ff0000",c.maW);

  // axes
  svg.append("line").attr("x1",plotL).attr("x2",panelR).attr("y1",c.top-.5).attr("y2",c.top-.5).attr("stroke","#222").attr("stroke-width",1.2);
  svg.append("line").attr("x1",plotL).attr("x2",plotL).attr("y1",c.top).attr("y2",c.bottom).attr("stroke","#222").attr("stroke-width",1.2);
  svg.append("line").attr("x1",axisX).attr("x2",axisX).attr("y1",c.top).attr("y2",c.bottom).attr("stroke","#222").attr("stroke-width",1.2);
  const ay=d3.axisRight(y).tickValues(c.ticks).tickSize(5).tickFormat(d=>(d/100000).toFixed(5));
  const axG=svg.append("g").attr("transform",`translate(${axisX},0)`).call(ay);
  axG.select(".domain").remove();
  axG.selectAll("line").attr("stroke","#222");
  axG.selectAll("text").attr("x",8.6).attr("fill","#000").attr("font-family",'"Liberation Sans",Arial,sans-serif').call(tallText,14,.907);

  // level tags
  const tag=svg.selectAll(null).data(c.tags).join("g");
  tag.append("rect").attr("x",1931.5).attr("width",57).attr("y",d=>d[3]-7.4).attr("height",14.8).attr("fill",d=>d[1]);
  tag.append("text").attr("x",1937.6).attr("y",d=>d[3]+5).attr("fill",d=>d[2]).text(d=>(d[0]/100000).toFixed(5)).call(tallText,14,.907);

  // fib labels
  svg.selectAll(null).data(c.fib).join("text").attr("x",1926.5).attr("y",d=>d[2]+5).attr("text-anchor","end").attr("fill","#ff0000").text(d=>d[1]).call(tallText,14,.907);

  // chart caption
  svg.append("path").attr("d",`M20.5 ${c.capY-3}h8.5l-4.2 6z`).attr("fill","#000");
  svg.append("text").attr("x",36.6).attr("y",c.capY+5).attr("fill","#000").text(c.caption).call(tallText,14,.93);
  return {y,g};
}

const h4Kumo=[
 {kind:"cyan",up:h4CyanA1,low:h4CyanB1},{kind:"cyan",up:h4CyanA2,low:h4CyanB2},{kind:"gray",up:h4GrayB1,low:h4GrayA1},
 {kind:"cyan",up:h4CyanA3,low:h4CyanB3},{kind:"gray",up:h4GrayB2,low:h4GrayA2},{kind:"cyan",up:h4CyanA4,low:h4CyanB4},
 {kind:"gray",up:h4GrayB3,low:h4GrayA3},{kind:"cyan",up:h4CyanA5,low:h4CyanB5},{kind:"gray",up:h4GrayB4,low:h4GrayA4},{kind:"cyan",up:h4CyanA6,low:h4CyanB6}];
const h1Kumo=[
 {kind:"gray",up:h1GrayB1,low:h1GrayA1},{kind:"cyan",up:h1CyanA1,low:h1CyanB1},{kind:"gray",up:h1GrayB2,low:h1GrayA2},
 {kind:"cyan",up:h1CyanA2,low:h1CyanB2},{kind:"gray",up:h1GrayB3,low:h1GrayA3},{kind:"cyan",up:h1CyanA3,low:h1CyanB3},
 {kind:"gray",up:h1GrayB4,low:h1GrayA4},{kind:"gray",up:h1GrayB5,low:h1GrayA5},{kind:"cyan",up:h1CyanA4,low:h1CyanB4},{kind:"cyan",up:h1CyanA5,low:h1CyanB5}];

panel({top:45,bottom:465,panelBottom:465,priceDomain:[118660,115010],yRange:[49.3,461.7],open:h4Open,high:h4High,low:h4Low,close:h4Close,
  bodyW:3.8,kumo:h4Kumo,edge:h4CloudEdge,edgeColor:"#555555",levels:h4Levels,trends:h4Trends,fib:h4Fib,fibFrom:124.9,fibDiag:h4FibDiag,
  ma:{bars:h4MaBars,vals:h4MaVals,red:h4MaRedSpans},maW:2.6,ticks:h4Ticks,tags:h4Tags,capY:56.5,caption:"EURUSD,H4",tintBodies:true,hotBars:[125],blue:[99],forceDown:[]});

panel({top:503,bottom:997,panelBottom:1025,priceDomain:[117555,115705],yRange:[534.3,993.2],open:h1Open,high:h1High,low:h1Low,close:h1Close,
  bodyW:3.8,kumo:h1Kumo,edge:h1CloudEdge,edgeColor:"#ff3030",levels:h1Levels,trends:h1Trends,fib:h1Fib,fibFrom:-0.3,
  slow:{bars:h1SlowBars,vals:h1SlowVals,green:h1SlowGreenSpans},
  ma:{bars:h1MaBars,vals:h1MaVals,red:h1MaRedSpans},maW:2.2,ticks:h1Ticks,tags:h1Tags,capY:514.6,caption:"EURUSD,H1",tintBodies:false,blue:[],forceDown:[]});

// time axis of the H1 chart
const timeBars=h1TimeLabels.map((_,k)=>k*16);
const ax=d3.axisBottom(x).tickValues(timeBars).tickSize(4).tickFormat((d,k)=>h1TimeLabels[k]);
const axG=svg.append("g").attr("transform","translate(0,997)").call(ax);
axG.select(".domain").remove();
axG.selectAll("line").attr("stroke","#222");
axG.selectAll("text").attr("text-anchor","start").attr("x",-1).attr("y",6.5).attr("fill","#000").attr("font-family",'"Liberation Sans",Arial,sans-serif').call(tallText,14,.9);
svg.append("line").attr("x1",plotL).attr("x2",axisX).attr("y1",997).attr("y2",997).attr("stroke","#222").attr("stroke-width",1.2);

// on-chart buttons
[["Sessions",23,81],["Profile",114,67]].forEach(b=>{
  svg.append("rect").attr("x",b[1]).attr("y",532.5).attr("width",b[2]).attr("height",22).attr("fill","#808080").attr("stroke","#a8a8a8").attr("stroke-width",.8);
  svg.append("text").attr("x",b[1]+b[2]/2).attr("y",549.5).attr("text-anchor","middle").attr("font-size",17).attr("fill","#e8ff1a").text(b[0]);
});
</script>
</body></html>
